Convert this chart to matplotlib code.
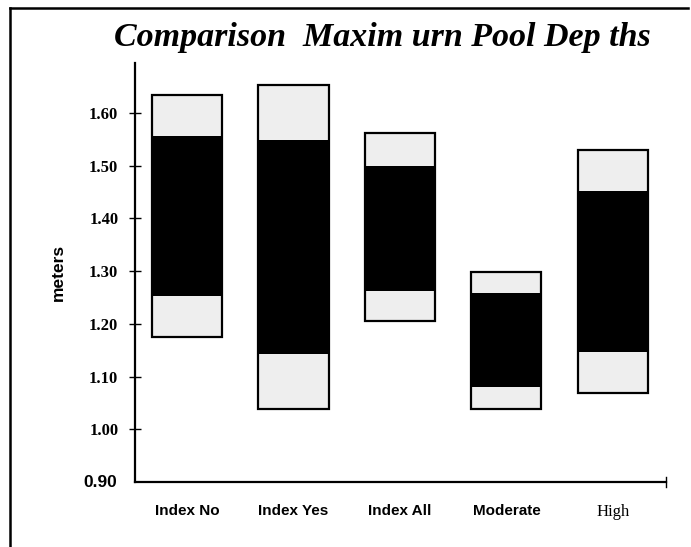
import matplotlib
matplotlib.use("Agg")
import matplotlib.pyplot as plt
import matplotlib.lines as mlines

categories = ["Index No", "Index Yes", "Index All", "Moderate", "High"]
range_min = [1.175, 1.039, 1.206, 1.039, 1.069]
inner_low = [1.253, 1.143, 1.262, 1.080, 1.147]
inner_high = [1.556, 1.549, 1.500, 1.259, 1.452]
range_max = [1.634, 1.653, 1.562, 1.298, 1.530]

y_ticks = [0.90, 1.00, 1.10, 1.20, 1.30, 1.40, 1.50, 1.60]
y_tick_labels = ["0.90", "1.00", "1.10", "1.20", "1.30", "1.40", "1.50", "1.60"]

LIGHT = "#eeeeee"
W = 0.66

fig = plt.figure(figsize=(6.91, 5.47), dpi=100)
ax = fig.add_axes([0.1954, 0.1188, 0.7684, 0.766])

x = range(len(categories))
lo_h = [b - a for a, b in zip(range_min, inner_low)]
mid_h = [b - a for a, b in zip(inner_low, inner_high)]
hi_h = [b - a for a, b in zip(inner_high, range_max)]
ax.bar(x, lo_h, W, bottom=range_min, color=LIGHT, linewidth=0)
ax.bar(x, mid_h, W, bottom=inner_low, color="black", linewidth=0)
ax.bar(x, hi_h, W, bottom=inner_high, color=LIGHT, linewidth=0)
# outline of each whole bar
tot_h = [b - a for a, b in zip(range_min, range_max)]
ax.bar(x, tot_h, W, bottom=range_min, fill=False, edgecolor="black", linewidth=1.6)

ax.set_xlim(-0.49, 4.5)
ax.set_ylim(0.90, 1.695)

for s in ["top", "right"]:
    ax.spines[s].set_visible(False)
ax.spines["left"].set_linewidth(1.6)
ax.spines["bottom"].set_linewidth(1.6)

ax.set_yticks(y_ticks[1:])
ax.set_yticklabels(y_tick_labels[1:], family="Liberation Serif", fontweight="bold", fontsize=12)
ax.tick_params(axis="y", direction="inout", length=8, width=1, pad=8)
ax.text(-0.034, 0.0, y_tick_labels[0], transform=ax.transAxes, ha="right", va="center",
        family="Liberation Sans", fontweight="bold", fontsize=12.5)

ax.set_xticks(list(x))
ax.set_xticklabels(categories)
ax.tick_params(axis="x", length=0, pad=16)
for i, lab in enumerate(ax.get_xticklabels()):
    if i < 4:
        lab.set_family("Liberation Sans")
        lab.set_fontweight("bold")
        lab.set_fontsize(11)
    else:
        lab.set_family("Liberation Serif")
        lab.set_fontsize(12)
# small tick at right end of x axis
ax.plot([1, 1], [-0.012, 0.012], transform=ax.transAxes, color="black", lw=1, clip_on=False)

ax.set_ylabel("meters", family="Liberation Sans", fontweight="bold", fontsize=12.5, labelpad=17)

fig.text(0.554, 0.932, "Comparison  Maxim urn Pool Dep ths", ha="center", va="center",
         family="Liberation Serif", fontweight="bold", style="italic", fontsize=24.5)

# frame lines from the scanned page
fig.add_artist(mlines.Line2D([0.0145, 0.0145], [0.0, 0.985], color="black", lw=1.8))
fig.add_artist(mlines.Line2D([0.0145, 0.995], [0.985, 0.985], color="black", lw=1.8))

fig.savefig("out.png", dpi=100)
